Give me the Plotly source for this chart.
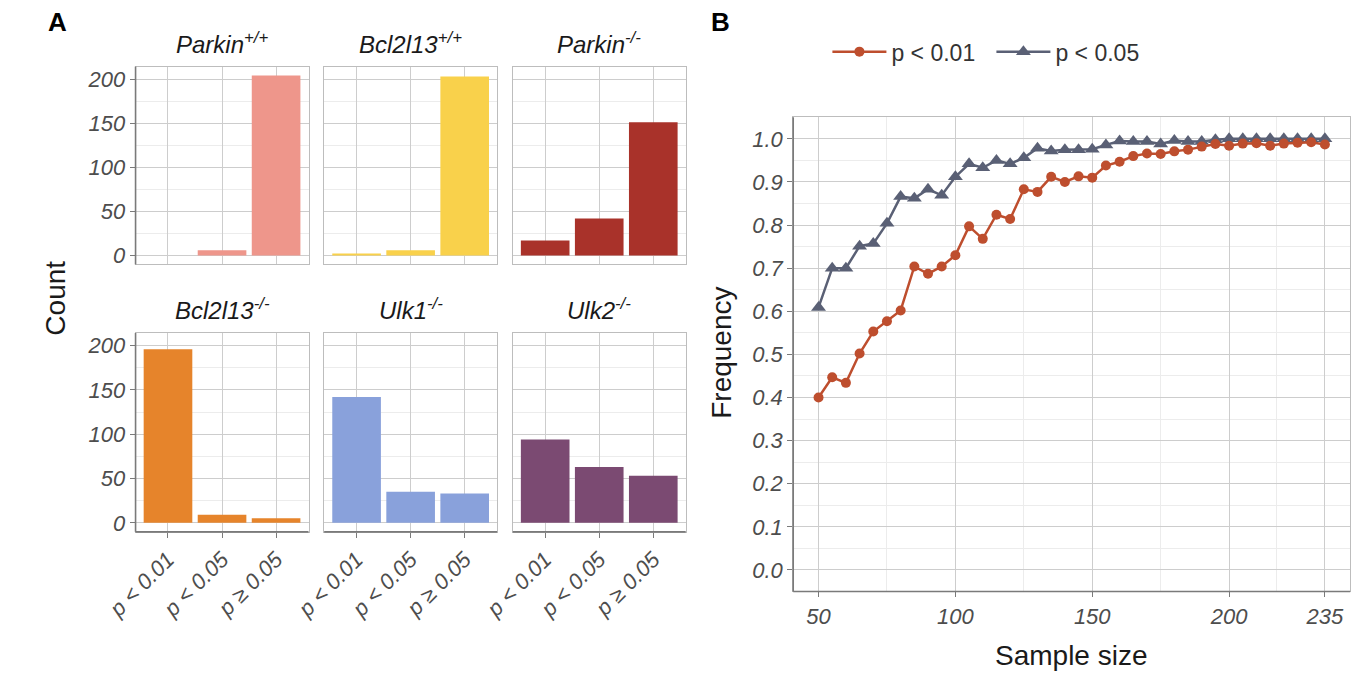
import plotly.graph_objects as go

# ---------------- data ----------------
gene_names = ["Parkin", "Bcl2l13", "Parkin", "Bcl2l13", "Ulk1", "Ulk2"]
genotypes = ["+/+", "+/+", "-/-", "-/-", "-/-", "-/-"]
categories = ["p < 0.01", "p < 0.05", "p \u2265 0.05"]
count_p01 = [0, 1, 17, 196, 142, 94]
count_p05 = [6, 6, 42, 9, 35, 63]
count_ns = [204, 203, 151, 5, 33, 53]
bar_colors = ["#EE968B", "#F9D14B", "#A9322A", "#E6842B", "#89A1DB", "#7B4A72"]

sample_size = [50, 55, 60, 65, 70, 75, 80, 85, 90, 95,
               100, 105, 110, 115, 120, 125, 130, 135, 140, 145,
               150, 155, 160, 165, 170, 175, 180, 185, 190, 195,
               200, 205, 210, 215, 220, 225, 230, 235]
freq_p01 = [0.400, 0.447, 0.434, 0.502, 0.553, 0.577, 0.602, 0.704, 0.687, 0.704,
            0.730, 0.797, 0.768, 0.824, 0.814, 0.883, 0.877, 0.912, 0.900, 0.913,
            0.910, 0.938, 0.947, 0.960, 0.966, 0.965, 0.971, 0.975, 0.982, 0.988,
            0.984, 0.989, 0.990, 0.984, 0.989, 0.991, 0.992, 0.987]
freq_p05 = [0.609, 0.700, 0.700, 0.751, 0.757, 0.804, 0.866, 0.862, 0.883, 0.869,
            0.912, 0.942, 0.933, 0.950, 0.942, 0.956, 0.978, 0.972, 0.975, 0.975,
            0.976, 0.986, 0.995, 0.994, 0.994, 0.988, 0.996, 0.994, 0.994, 0.998,
            1.000, 1.000, 1.000, 1.000, 1.000, 1.000, 1.000, 1.000]
series_names = ["p < 0.01", "p < 0.05"]
series_colors = ["#BE4E2E", "#5A6075"]
freq_ticks = [0.0, 0.1, 0.2, 0.3, 0.4, 0.5, 0.6, 0.7, 0.8, 0.9, 1.0]
size_ticks = [50, 100, 150, 200, 235]
count_ticks = [0, 50, 100, 150, 200]

# ---------------- layout helpers ----------------
W, H = 1359, 676
def fx(x):
    return x / W
def fy(y):
    return 1 - y / H

MAJOR = "#CDCDCD"
MINOR = "#ECECEC"
BORDER = "#BDBDBD"
AXIS = "#7A7A7A"
TICKTXT = "#4D4D4D"
REG = "Liberation Sans, Arial"

left_cols = [(107, 284), (300, 477), (493, 670)]
rows = [(67, 266), (335, 535)]

fig = go.Figure()
layout = {}
annotations = []
shapes = []

for i in range(6):
    r, c = divmod(i, 3)
    n = i + 1
    xname = "x" if n == 1 else f"x{n}"
    yname = "y" if n == 1 else f"y{n}"
    fig.add_trace(go.Bar(
        x=categories,
        y=[count_p01[i], count_p05[i], count_ns[i]],
        marker=dict(color=bar_colors[i], line=dict(width=0)),
        width=0.9, xaxis=xname, yaxis=yname, showlegend=False,
    ))
    x0, x1 = left_cols[c]
    y0, y1 = rows[r]
    layout[f"xaxis{n}"] = dict(
        domain=[fx(x0), fx(x1)], anchor=yname, type="category",
        categoryorder="array", categoryarray=categories,
        range=[-0.6, 2.6], showgrid=True, gridcolor=MAJOR, gridwidth=1,
        showline=True, mirror=True, linecolor=BORDER, linewidth=1,
        zeroline=False, tickangle=-45,
        showticklabels=(r == 1), ticks=("outside" if r == 1 else ""),
        ticklen=5, tickcolor=AXIS,
        tickfont=dict(family=REG, size=22, color=TICKTXT, style="italic"),
    )
    layout[f"yaxis{n}"] = dict(
        domain=[fy(y1), fy(y0)], anchor=xname,
        range=[-10.2, 214.2], tickmode="array", tickvals=count_ticks,
        showgrid=True, gridcolor=MAJOR, gridwidth=1,
        minor=dict(tickmode="array", tickvals=[25, 75, 125, 175],
                   showgrid=True, gridcolor=MINOR, gridwidth=1, ticks=""),
        showline=True, mirror=True, linecolor=BORDER, linewidth=1,
        zeroline=False,
        showticklabels=(c == 0), ticks=("outside" if c == 0 else ""),
        ticklen=5, tickcolor=AXIS,
        tickfont=dict(family=REG, size=22, color=TICKTXT, style="italic"),
    )
    # strip title
    annotations.append(dict(
        x=fx((x0 + x1) / 2), y=fy(y0 - 24), xref="paper", yref="paper",
        text=f"<i>{gene_names[i]}<sup>{genotypes[i]}</sup></i>",
        showarrow=False, xanchor="center", yanchor="middle",
        font=dict(family=REG, size=24, color="#1A1A1A"),
    ))
    # dark axis lines
    if c == 0:
        shapes.append(dict(type="line", xref="paper", yref="paper",
                           x0=fx(x0), x1=fx(x0), y0=fy(y1), y1=fy(y0),
                           line=dict(color=AXIS, width=1.6)))
    if r == 1:
        shapes.append(dict(type="line", xref="paper", yref="paper",
                           x0=fx(x0), x1=fx(x1), y0=fy(y1), y1=fy(y1),
                           line=dict(color=AXIS, width=1.6)))

# ---------------- right panel ----------------
rx0, rx1 = 780, 1350
ry0, ry1 = 118, 595
symbols = ["circle", "triangle-up"]
sizes = [10, 13]
series = [freq_p01, freq_p05]
for k in [1, 0]:
    fig.add_trace(go.Scatter(
        x=sample_size, y=series[k], mode="lines+markers",
        name=series_names[k], legendrank=k + 1,
        line=dict(color=series_colors[k], width=2.5),
        marker=dict(symbol=symbols[k], size=sizes[k], color=series_colors[k]),
        xaxis="x7", yaxis="y7",
    ))

layout["xaxis7"] = dict(
    domain=[fx(rx0), fx(rx1)], anchor="y7",
    range=[40.75, 244.25], tickmode="array", tickvals=size_ticks,
    showgrid=True, gridcolor=MAJOR, gridwidth=1,
    minor=dict(tickmode="array", tickvals=[75, 125, 175, 217.5],
               showgrid=True, gridcolor=MINOR, gridwidth=1, ticks=""),
    showline=True, mirror=True, linecolor=BORDER, linewidth=1,
    zeroline=False, ticks="outside", ticklen=5, tickcolor=AXIS,
    tickfont=dict(family=REG, size=22, color=TICKTXT, style="italic"),
)
layout["yaxis7"] = dict(
    domain=[fy(ry1), fy(ry0)], anchor="x7",
    range=[-0.05, 1.05], tickmode="array", tickvals=freq_ticks,
    tickformat=".1f",
    showgrid=True, gridcolor=MAJOR, gridwidth=1,
    minor=dict(tickmode="array",
               tickvals=[0.05, 0.15, 0.25, 0.35, 0.45, 0.55, 0.65, 0.75, 0.85, 0.95],
               showgrid=True, gridcolor=MINOR, gridwidth=1, ticks=""),
    showline=True, mirror=True, linecolor=BORDER, linewidth=1,
    zeroline=False, ticks="outside", ticklen=5, tickcolor=AXIS,
    tickfont=dict(family=REG, size=22, color=TICKTXT, style="italic"),
)
shapes.append(dict(type="line", xref="paper", yref="paper",
                   x0=fx(rx0), x1=fx(rx0), y0=fy(ry1), y1=fy(ry0),
                   line=dict(color=AXIS, width=1.6)))
shapes.append(dict(type="line", xref="paper", yref="paper",
                   x0=fx(rx0), x1=fx(rx1), y0=fy(ry1), y1=fy(ry1),
                   line=dict(color=AXIS, width=1.6)))

# titles and panel letters
annotations += [
    dict(x=fx(25), y=fy(300), text="Count", textangle=-90, showarrow=False,
         xref="paper", yref="paper", xanchor="center", yanchor="middle",
         font=dict(family=REG, size=28, color="#1A1A1A")),
    dict(x=fx(707), y=fy(355), text="Frequency", textangle=-90, showarrow=False,
         xref="paper", yref="paper", xanchor="center", yanchor="middle",
         font=dict(family=REG, size=28, color="#1A1A1A")),
    dict(x=fx(1065), y=fy(659), text="Sample size", showarrow=False,
         xref="paper", yref="paper", xanchor="center", yanchor="middle",
         font=dict(family=REG, size=28, color="#1A1A1A")),
    dict(x=fx(27), y=fy(22), text="<b>A</b>", showarrow=False,
         xref="paper", yref="paper", xanchor="center", yanchor="middle",
         font=dict(family=REG, size=26, color="#000000")),
    dict(x=fx(706), y=fy(22), text="<b>B</b>", showarrow=False,
         xref="paper", yref="paper", xanchor="center", yanchor="middle",
         font=dict(family=REG, size=26, color="#000000")),
]

fig.update_layout(
    width=W, height=H, autosize=False,
    margin=dict(l=0, r=0, t=0, b=0),
    paper_bgcolor="white", plot_bgcolor="white",
    showlegend=True,
    legend=dict(orientation="h", x=fx(815), y=fy(52), xanchor="left", yanchor="middle",
                font=dict(family=REG, size=23, color="#333333"),
                itemwidth=54, entrywidth=95, entrywidthmode="pixels",
                bgcolor="rgba(0,0,0,0)", traceorder="normal"),
    annotations=annotations, shapes=shapes,
    **layout,
)

fig.write_html("out.html", config={"displayModeBar": False},
               post_script="document.body.style.margin='0';document.body.style.overflow='hidden';")
